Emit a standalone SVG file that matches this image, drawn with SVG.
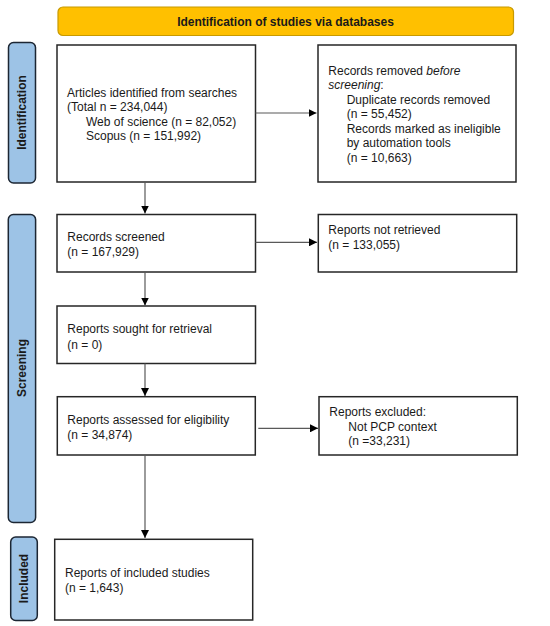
<svg xmlns="http://www.w3.org/2000/svg" width="550" height="626" viewBox="0 0 550 626">
<style>
  text { font-family: "Liberation Sans", Arial, sans-serif; font-size: 12px; fill: #1a1a1a; }
  .hdr { font-weight: bold; }
  .side { font-weight: bold; }
  .box { fill: #ffffff; stroke: #262626; stroke-width: 1.5; }
  .sidebox { fill: #9dc3e6; stroke: #1c2633; stroke-width: 1.5; }
  .conn { stroke: #595959; stroke-width: 1.2; fill: none; marker-end: url(#ah); }
</style>
<defs>
  <marker id="ah" viewBox="0 0 10 10" refX="10" refY="5" markerWidth="8" markerHeight="8" markerUnits="userSpaceOnUse" orient="auto">
    <path d="M0,0 L10,5 L0,10 Z" fill="#000000"/>
  </marker>
</defs>
<rect width="550" height="626" fill="#ffffff"/>

<g id="header">
  <rect x="58" y="7" width="455.5" height="28.5" rx="5" fill="#ffc000" stroke="#c89a00" stroke-width="1.2"/>
  <text class="hdr" x="285.5" y="25.5" text-anchor="middle">Identification of studies via databases</text>
</g>

<g id="side-identification">
  <rect class="sidebox" x="8.5" y="42.5" width="27" height="140.5" rx="5"/>
  <text class="side" transform="translate(26.3,112.5) rotate(-90)" text-anchor="middle">Identification</text>
</g>
<g id="side-screening">
  <rect class="sidebox" x="8.3" y="214.5" width="27.3" height="308" rx="5"/>
  <text class="side" transform="translate(26.3,368) rotate(-90)" text-anchor="middle">Screening</text>
</g>
<g id="side-included">
  <rect class="sidebox" x="10.7" y="537" width="26.6" height="83.5" rx="5"/>
  <text class="side" transform="translate(28.3,578.5) rotate(-90)" text-anchor="middle">Included</text>
</g>

<g id="n-identified">
  <rect class="box" x="57" y="45" width="198.5" height="137"/>
  <text x="67" y="96.5">Articles identified from searches</text>
  <text x="67" y="111">(Total n = 234,044)</text>
  <text x="86" y="125.5">Web of science (n = 82,052)</text>
  <text x="86" y="140">Scopus (n = 151,992)</text>
</g>

<g id="n-removed">
  <rect class="box" x="318" y="45" width="198" height="137"/>
  <text x="328.3" y="74.5">Records removed <tspan font-style="italic">before</tspan></text>
  <text x="328.3" y="89"><tspan font-style="italic">screening</tspan>:</text>
  <text x="346.7" y="103.5">Duplicate records removed</text>
  <text x="346.7" y="118">(n = 55,452)</text>
  <text x="346.7" y="132.5">Records marked as ineligible</text>
  <text x="346.7" y="147">by automation tools</text>
  <text x="346.7" y="161.5">(n = 10,663)</text>
</g>

<g id="n-screened">
  <rect class="box" x="57" y="214.5" width="198.5" height="57.5"/>
  <text x="67.3" y="241">Records screened</text>
  <text x="67.3" y="256">(n = 167,929)</text>
</g>

<g id="n-notretrieved">
  <rect class="box" x="318.3" y="214.5" width="198.4" height="57.5"/>
  <text x="328.3" y="234">Reports not retrieved</text>
  <text x="328.3" y="249">(n = 133,055)</text>
</g>

<g id="n-sought">
  <rect class="box" x="57" y="306" width="198.5" height="57.5"/>
  <text x="67.3" y="333">Reports sought for retrieval</text>
  <text x="67.3" y="349">(n = 0)</text>
</g>

<g id="n-assessed">
  <rect class="box" x="57.3" y="396.7" width="198" height="58.3"/>
  <text x="67.3" y="423.5">Reports assessed for eligibility</text>
  <text x="67.3" y="439">(n = 34,874)</text>
</g>

<g id="n-excluded">
  <rect class="box" x="319" y="396.7" width="198.3" height="58.3"/>
  <text x="329.3" y="416">Reports excluded:</text>
  <text x="348.3" y="430.5">Not PCP context</text>
  <text x="348.3" y="445">(n =33,231)</text>
</g>

<g id="n-included">
  <rect class="box" x="54.7" y="539.3" width="198" height="80.7"/>
  <text x="65" y="577">Reports of included studies</text>
  <text x="65" y="592">(n = 1,643)</text>
</g>

<g id="connectors">
  <line class="conn" x1="255.5" y1="113" x2="316.5" y2="113"/>
  <line class="conn" x1="145" y1="182" x2="145" y2="213.5"/>
  <line class="conn" x1="255.5" y1="242.3" x2="317" y2="242.3"/>
  <line class="conn" x1="145" y1="272" x2="145" y2="305.5"/>
  <line class="conn" x1="145" y1="363.5" x2="145" y2="396"/>
  <line class="conn" x1="258.3" y1="428.3" x2="318" y2="428.3"/>
  <line class="conn" x1="145" y1="455" x2="145" y2="538"/>
</g>
</svg>
